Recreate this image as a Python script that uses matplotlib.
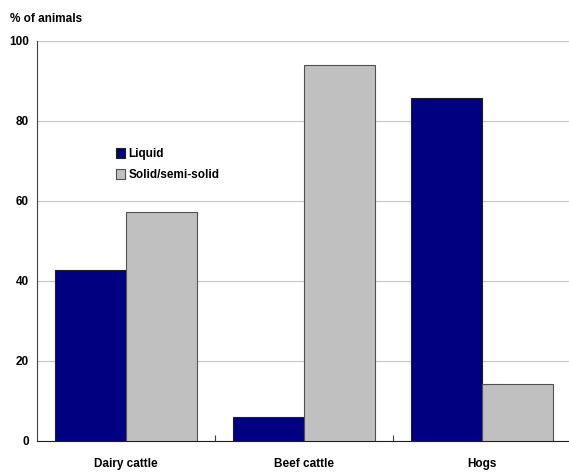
import matplotlib
matplotlib.use("Agg")
import matplotlib.pyplot as plt
import numpy as np

categories = ["Dairy cattle", "Beef cattle", "Hogs"]
liquid = [42.7, 6.1, 85.7]
solid = [57.2, 93.9, 14.2]

plt.rcParams['font.family'] = ['Liberation Sans', 'DejaVu Sans']

fig = plt.figure(figsize=(5.69, 4.72), dpi=100)
ax = fig.add_axes([0.0656, 0.0657, 0.9375, 0.8475])

x = np.arange(len(categories))
w = 0.4
ax.bar(x - w / 2, liquid, w, color='#000080', edgecolor='#202020', linewidth=0.8,
       label="Liquid", zorder=3)
ax.bar(x + w / 2, solid, w, color='#c0c0c0', edgecolor='#505050', linewidth=0.8,
       label="Solid/semi-solid", zorder=3)

ax.set_xlim(-0.5, 2.5)
ax.set_ylim(0, 100)
ax.set_yticks([0, 20, 40, 60, 80, 100])
ax.set_yticklabels([0, 20, 40, 60, 80, 100], fontsize=8.5, fontweight='bold')
ax.tick_params(axis='y', length=0, pad=6)
ax.grid(axis='y', color='#c4c4c4', linewidth=0.8, zorder=0)

ax.set_xticks([0.5, 1.5])
ax.set_xticklabels([])
ax.tick_params(axis='x', direction='in', length=4, color='#404040')
for i, c in enumerate(categories):
    ax.text(i, -5.75, c, ha='center', va='center', fontsize=8.5, fontweight='bold')

ax.spines['right'].set_visible(False)
ax.spines['top'].set_visible(False)
ax.spines['left'].set_color('#404040')
ax.spines['bottom'].set_color('#202020')

fig.text(0.0176, 0.96, "% of animals", fontsize=8.5, fontweight='bold', va='center')

ax.legend(loc='upper left', bbox_to_anchor=(0.128, 0.76), frameon=False,
          prop={'weight': 'bold', 'size': 8.5},
          handlelength=0.75, handleheight=1.0, handletextpad=0.3, labelspacing=0.75)

fig.savefig("out.png", dpi=100)
